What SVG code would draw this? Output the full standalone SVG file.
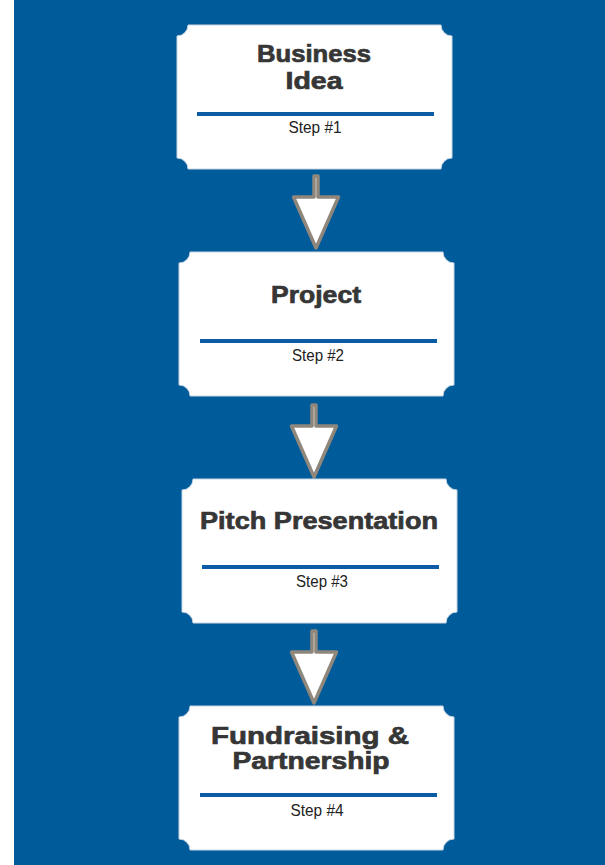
<svg xmlns="http://www.w3.org/2000/svg" xmlns:xlink="http://www.w3.org/1999/xlink" width="605" height="865" viewBox="0 0 605 865">
  <style>
    .card { fill: #ffffff; stroke: #c9d6e3; stroke-width: 1; }
    .rule { fill: #0b5ca5; }
    .title { font-family: "Liberation Sans", Arial, sans-serif; font-weight: bold; font-size: 24px; fill: #363636; stroke: #363636; stroke-width: 0.7; text-anchor: middle; }
    .step { font-family: "Liberation Sans", Arial, sans-serif; font-size: 16px; fill: #222222; text-anchor: middle; }
    .arrow { fill: #ffffff; stroke: #8f877c; stroke-width: 3.5; stroke-linejoin: round; }
  </style>
  <defs>
    <path id="cardShape" d="M11,0 H264 A11,11 0 0 0 275,11 V133 A11,11 0 0 0 264,144 H11 A11,11 0 0 0 0,133 V11 A11,11 0 0 0 11,0 Z"/>
    <polygon id="arrowShape" points="-2,0 2,0 2,21 22.5,21 0,72 -22.5,21 -2,21"/>
  </defs>
  <rect x="0" y="0" width="605" height="865" fill="#ffffff"/>
  <rect x="14" y="0" width="591" height="865" fill="#005b9b"/>

  <g id="connectors">
    <use xlink:href="#arrowShape" class="arrow" transform="translate(316,176)"/>
    <use xlink:href="#arrowShape" class="arrow" transform="translate(314,405)"/>
    <use xlink:href="#arrowShape" class="arrow" transform="translate(314,631)"/>
  </g>

  <g id="step1" transform="translate(177,25)">
    <use xlink:href="#cardShape" class="card"/>
    <text class="title" x="137" y="37" textLength="114" lengthAdjust="spacingAndGlyphs">Business</text>
    <text class="title" x="137" y="64" textLength="57" lengthAdjust="spacingAndGlyphs">Idea</text>
    <rect class="rule" x="20" y="87" width="237" height="4"/>
    <text class="step" x="138" y="108" textLength="53" lengthAdjust="spacingAndGlyphs">Step #1</text>
  </g>

  <g id="step2" transform="translate(179,252)">
    <use xlink:href="#cardShape" class="card"/>
    <text class="title" x="137" y="51" textLength="90" lengthAdjust="spacingAndGlyphs">Project</text>
    <rect class="rule" x="21" y="87" width="237" height="4"/>
    <text class="step" x="139" y="109" textLength="52" lengthAdjust="spacingAndGlyphs">Step #2</text>
  </g>

  <g id="step3" transform="translate(182,479)">
    <use xlink:href="#cardShape" class="card"/>
    <text class="title" x="137" y="50" textLength="238" lengthAdjust="spacingAndGlyphs">Pitch Presentation</text>
    <rect class="rule" x="20" y="86" width="237" height="4"/>
    <text class="step" x="140" y="108" textLength="52" lengthAdjust="spacingAndGlyphs">Step #3</text>
  </g>

  <g id="step4" transform="translate(179,706)">
    <use xlink:href="#cardShape" class="card"/>
    <text class="title" x="131" y="38" textLength="198" lengthAdjust="spacingAndGlyphs">Fundraising &amp;</text>
    <text class="title" x="132" y="63" textLength="157" lengthAdjust="spacingAndGlyphs">Partnership</text>
    <rect class="rule" x="21" y="87" width="237" height="4"/>
    <text class="step" x="138" y="110" textLength="53" lengthAdjust="spacingAndGlyphs">Step #4</text>
  </g>
</svg>
